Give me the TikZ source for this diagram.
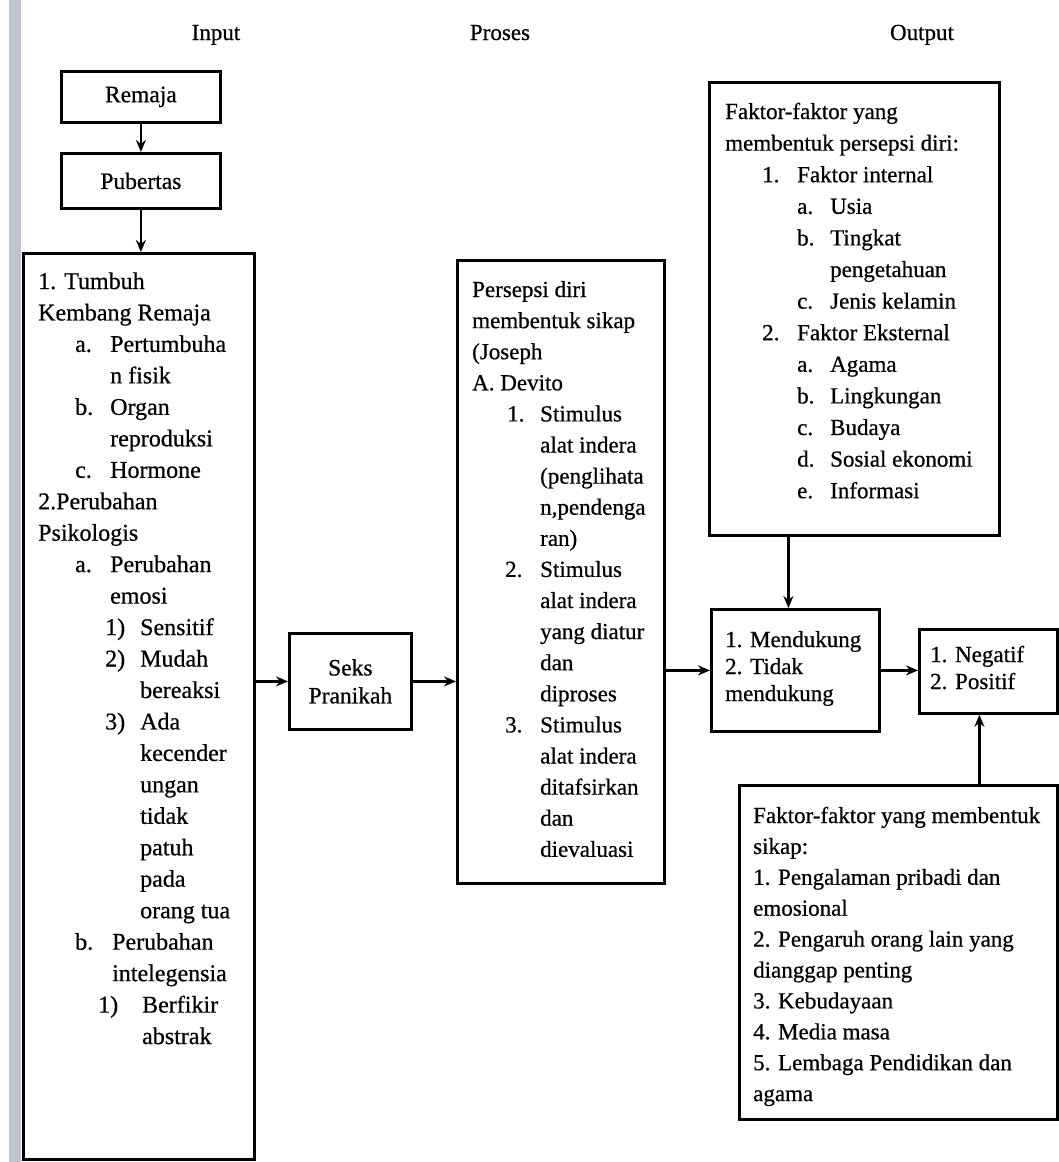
\documentclass[tikz,border=0pt]{standalone}
\usepackage{fontspec}
\setmainfont{Liberation Serif}[FakeBold=0.6]
\usetikzlibrary{arrows.meta}
\definecolor{stripcol}{RGB}{190,196,212}
\newcommand{\itemlbl}[3]{\hspace*{#1pt}\makebox[#2pt][l]{#3}}
\begin{document}
\begin{tikzpicture}[x=1pt,y=-1pt,
  box/.style={draw,line width=2.8pt,inner sep=0pt,anchor=north west,
    font=\fontsize{23.5}{28}\selectfont,align=center},
  arr/.style={-{Stealth[length=12pt,width=10pt]},line width=2.2pt},
  txt/.style={inner sep=0pt,anchor=base west},
  lbl/.style={inner sep=0pt,anchor=base,font=\fontsize{23}{28}\selectfont}]
\useasboundingbox (0,0) rectangle (1058,1162);
\fill[white] (0,0) rectangle (1058,1162);
\fill[stripcol] (9,0) rectangle (21,1162);

% column labels
\node[lbl] (input) at (216,40) {Input};
\node[lbl] (proses) at (500,40) {Proses};
\node[lbl] (output) at (922,40) {Output};

% input column
\node[box,minimum width=159pt,minimum height=51pt] (remaja) at (60,70) {Remaja};
\node[box,minimum width=159pt,minimum height=55pt] (pubertas) at (60,152) {Pubertas};
\node[box,minimum width=231pt,minimum height=906pt] (tumbuh) at (22,252) {};
\node[txt] (tumbuhtext) at (38,289) {\parbox[t]{300pt}{\fontsize{24}{31.46}\selectfont
1. Tumbuh\\
Kembang Remaja\\
\itemlbl{37}{35}{a.}Pertumbuha\\
\hspace*{72pt}n fisik\\
\itemlbl{37}{35}{b.}Organ\\
\hspace*{72pt}reproduksi\\
\itemlbl{37}{35}{c.}Hormone\\
2.Perubahan\\
Psikologis\\
\itemlbl{37}{35}{a.}Perubahan\\
\hspace*{72pt}emosi\\
\itemlbl{67}{35}{1)}Sensitif\\
\itemlbl{67}{35}{2)}Mudah\\
\hspace*{102pt}bereaksi\\
\itemlbl{67}{35}{3)}Ada\\
\hspace*{102pt}kecender\\
\hspace*{102pt}ungan\\
\hspace*{102pt}tidak\\
\hspace*{102pt}patuh\\
\hspace*{102pt}pada\\
\hspace*{102pt}orang tua\\
\itemlbl{37}{37}{b.}Perubahan\\
\hspace*{74pt}intelegensia\\
\itemlbl{60}{44}{1)}Berfikir\\
\hspace*{104pt}abstrak}};

% process column
\node[box,minimum width=122pt,minimum height=96pt] (seks) at (288,632) {Seks\\Pranikah};
\node[box,minimum width=207pt,minimum height=623pt] (persepsi) at (456,259) {};
\node[txt] (persepsitext) at (472,297) {\parbox[t]{300pt}{\fontsize{23}{31.1}\selectfont
Persepsi diri\\
membentuk sikap\\
(Joseph\\
A. Devito\\
\itemlbl{35}{33}{1.}Stimulus\\
\hspace*{68pt}alat indera\\
\hspace*{68pt}(penglihata\\
\hspace*{68pt}n,pendenga\\
\hspace*{68pt}ran)\\
\itemlbl{33}{35}{2.}Stimulus\\
\hspace*{68pt}alat indera\\
\hspace*{68pt}yang diatur\\
\hspace*{68pt}dan\\
\hspace*{68pt}diproses\\
\itemlbl{33}{35}{3.}Stimulus\\
\hspace*{68pt}alat indera\\
\hspace*{68pt}ditafsirkan\\
\hspace*{68pt}dan\\
\hspace*{68pt}dievaluasi}};

% output column
\node[box,minimum width=290pt,minimum height=453pt] (faktor) at (708,81) {};
\node[txt] (faktortext) at (725,119) {\parbox[t]{300pt}{\fontsize{23}{31.6}\selectfont
Faktor-faktor yang\\
membentuk persepsi diri:\\
\itemlbl{37}{35}{1.}Faktor internal\\
\itemlbl{72}{33}{a.}Usia\\
\itemlbl{72}{33}{b.}Tingkat\\
\hspace*{105pt}pengetahuan\\
\itemlbl{72}{33}{c.}Jenis kelamin\\
\itemlbl{37}{35}{2.}Faktor Eksternal\\
\itemlbl{72}{33}{a.}Agama\\
\itemlbl{72}{33}{b.}Lingkungan\\
\itemlbl{72}{33}{c.}Budaya\\
\itemlbl{72}{33}{d.}Sosial ekonomi\\
\itemlbl{72}{33}{e.}Informasi}};

\node[box,minimum width=168pt,minimum height=122pt] (mendukung) at (710,608) {};
\node[txt] (mendukungtext) at (725,647) {\parbox[t]{200pt}{\fontsize{23}{27}\selectfont
1. Mendukung\\
2. Tidak\\
mendukung}};

\node[box,minimum width=138pt,minimum height=84pt] (negatif) at (918,628) {};
\node[txt] (negatiftext) at (930,662) {\parbox[t]{200pt}{\fontsize{23}{27}\selectfont
1. Negatif\\
2. Positif}};

\node[box,minimum width=318pt,minimum height=334pt] (sikap) at (738,784) {};
\node[txt] (sikaptext) at (753,823) {\parbox[t]{400pt}{\fontsize{23}{30.9}\selectfont
Faktor-faktor yang membentuk\\
sikap:\\
1. Pengalaman pribadi dan\\
emosional\\
2. Pengaruh orang lain yang\\
dianggap penting\\
3. Kebudayaan\\
4. Media masa\\
5. Lembaga Pendidikan dan\\
agama}};

% connectors
\draw[arr] (remaja.south) -- (pubertas.north);
\draw[arr] (pubertas.south) -- (pubertas.south |- tumbuh.north);
\draw[arr] (tumbuh.east |- seks.west) -- (seks.west);
\draw[arr] (seks.east) -- (seks.east -| persepsi.west);
\draw[arr] (persepsi.east |- mendukung.west) -- (mendukung.west);
\draw[arr] (mendukung.east) -- (mendukung.east -| negatif.west);
\draw[arr] ([xshift=-7pt]mendukung.north |- faktor.south) -- ([xshift=-7pt]mendukung.north);
\draw[arr] ([xshift=-9pt]negatif.south |- sikap.north) -- ([xshift=-9pt]negatif.south);
\end{tikzpicture}
\end{document}
